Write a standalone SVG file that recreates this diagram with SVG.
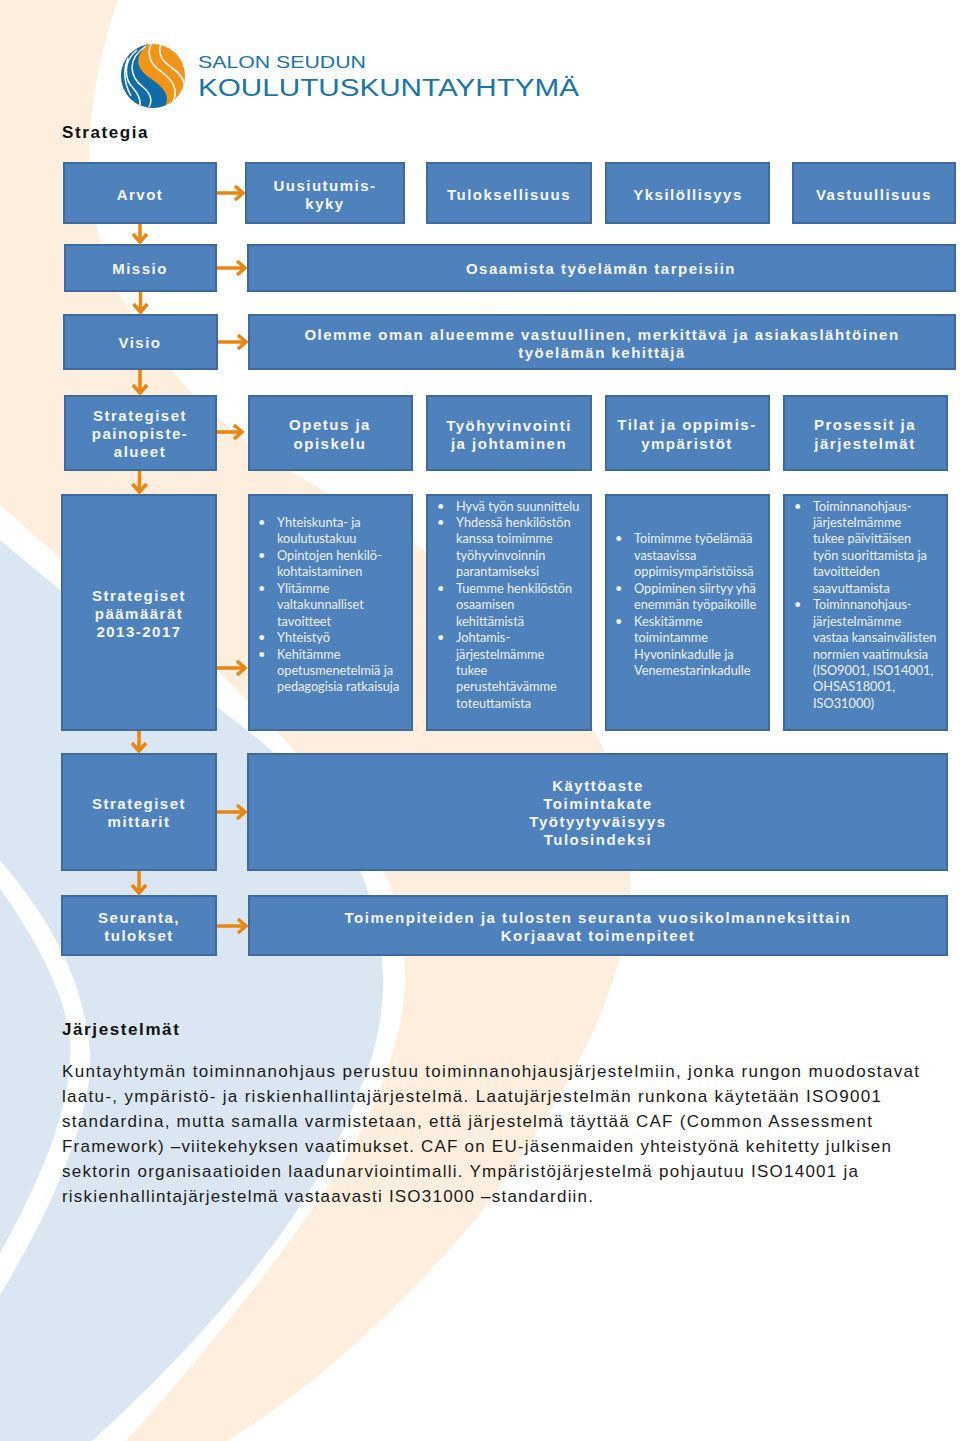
<svg xmlns="http://www.w3.org/2000/svg" width="960" height="1441" viewBox="0 0 960 1441">
<style>
.b{fill:#4f81bd;stroke:#3f6a9c;stroke-width:2}
.l{font-family:"Liberation Sans",Arial,sans-serif;font-weight:700;font-size:15px;letter-spacing:1.5px;fill:#f4f7fb;text-anchor:middle}
.s{font-family:Lato,"Open Sans",sans-serif;font-size:12.75px;fill:#edf2f8}
.t{font-family:"Liberation Sans",Arial,sans-serif;font-size:17px;fill:#1a1a1a}
.h{font-family:"Liberation Sans",Arial,sans-serif;font-size:17px;font-weight:700;letter-spacing:1.6px;fill:#111}
.a{fill:none;stroke:#e8860f;stroke-width:3.5;marker-end:url(#ah)}
.logo{font-family:"Liberation Sans",Arial,sans-serif;fill:#1a74a8}
</style>
<defs>
<marker id="ah" markerUnits="userSpaceOnUse" markerWidth="20" markerHeight="20" refX="16" refY="10" orient="auto" viewBox="0 0 20 20">
<path d="M8,3 L16,10 L8,17" fill="none" stroke="#e8860f" stroke-width="3.5"/>
</marker>
<clipPath id="lc"><circle cx="153" cy="76" r="32"/></clipPath>
</defs>
<rect width="960" height="1441" fill="#fff"/>
<g id="background">
<path fill="#fdeedd" d="M0,0 L118,0 C100,50 89,110 89,157 C90,215 105,265 120,295 C140,330 160,358 173,372 C205,410 250,448 293,473 C340,500 375,520 413,542 C480,590 550,670 592,727 C610,755 630,820 630,875 C632,930 615,985 589,1040 C560,1100 520,1160 479,1215 C400,1310 310,1390 227,1441 L126,1441 C200,1360 270,1270 319,1200 C370,1130 405,1040 405,979 C405,930 395,890 383,872 C360,820 320,780 285,740 C270,725 260,712 250,703 L217,670 L62,560 L0,505 Z"/>
<path fill="#dae7f3" d="M0,540 L60,590 L217,707 C240,725 258,738 273,752 C310,790 345,835 362,875 C378,915 383,950 383,979 C383,1010 378,1040 368,1068 C350,1120 325,1170 294,1215 C240,1295 165,1375 92,1441 L0,1441 Z"/>
<path fill="#fff" d="M0,860 C50,920 82,975 90,1050 C95,1120 40,1230 0,1295 L0,1253 C30,1200 75,1110 70,1040 C65,990 30,930 0,889 Z"/>
</g>
<g id="logo">
<g clip-path="url(#lc)">
<rect x="121" y="44" width="64" height="64" fill="#f0941a"/>
<path fill="#0f6cab" d="M121,44 L148,44 C132,58 138,70 150,78 C163,87 172,96 164,108 L121,108 Z"/>
<path fill="none" stroke="#fff" stroke-width="1.5" d="M146,46 C125,60 131,78 143,87 C150,93 153,100 149,107 M137,50 C122,62 125,80 133,88 C139,95 141,100 140,106 M128,58 C122,72 125,85 131,96 M151,44 C146,56 152,66 162,72 C172,80 180,90 172,104 M161,44 C157,54 163,62 172,68 C180,73 185,80 185,90"/>
</g>
<text class="logo" x="198" y="68" font-size="17" textLength="168" lengthAdjust="spacingAndGlyphs">SALON SEUDUN</text>
<text class="logo" x="198" y="96" font-size="23" textLength="381" lengthAdjust="spacingAndGlyphs">KOULUTUSKUNTAYHTYMÄ</text>
</g>
<text class="h" x="62" y="138">Strategia</text>
<g id="n-arvot"><rect class="b" x="64" y="163" width="152" height="60"/><text class="l" x="140" y="200">Arvot</text></g>
<g id="n-uusiutumis"><rect class="b" x="246" y="163" width="158" height="60"/><text class="l" x="325" y="191">Uusiutumis-</text><text class="l" x="325" y="209">kyky</text></g>
<g id="n-tuloksellisuus"><rect class="b" x="427" y="163" width="164" height="60"/><text class="l" x="509" y="200">Tuloksellisuus</text></g>
<g id="n-yksilollisyys"><rect class="b" x="606" y="163" width="163" height="60"/><text class="l" x="688" y="200">Yksilöllisyys</text></g>
<g id="n-vastuullisuus"><rect class="b" x="793" y="163" width="162" height="60"/><text class="l" x="874" y="200">Vastuullisuus</text></g>
<g id="n-missio"><rect class="b" x="65" y="245" width="151" height="46"/><text class="l" x="140" y="274">Missio</text></g>
<g id="n-osaamista"><rect class="b" x="248" y="245" width="707" height="46"/><text class="l" x="601" y="274">Osaamista työelämän tarpeisiin</text></g>
<g id="n-visio"><rect class="b" x="64" y="315" width="153" height="54"/><text class="l" x="140" y="348">Visio</text></g>
<g id="n-olemme"><rect class="b" x="249" y="315" width="706" height="54"/><text class="l" x="602" y="340">Olemme oman alueemme vastuullinen, merkittävä ja asiakaslähtöinen</text><text class="l" x="602" y="358">työelämän kehittäjä</text></g>
<g id="n-painopiste"><rect class="b" x="65" y="396" width="151" height="74"/><text class="l" x="140" y="421">Strategiset</text><text class="l" x="140" y="439">painopiste-</text><text class="l" x="140" y="457">alueet</text></g>
<g id="n-opetus"><rect class="b" x="249" y="396" width="163" height="74"/><text class="l" x="330" y="430">Opetus ja</text><text class="l" x="330" y="449">opiskelu</text></g>
<g id="n-tyohyvinvointi"><rect class="b" x="427" y="396" width="164" height="74"/><text class="l" x="509" y="431">Työhyvinvointi</text><text class="l" x="509" y="449">ja johtaminen</text></g>
<g id="n-tilat"><rect class="b" x="606" y="396" width="163" height="74"/><text class="l" x="687" y="430">Tilat ja oppimis-</text><text class="l" x="687" y="449">ympäristöt</text></g>
<g id="n-prosessit"><rect class="b" x="784" y="396" width="163" height="74"/><text class="l" x="865" y="430">Prosessit ja</text><text class="l" x="865" y="449">järjestelmät</text></g>
<g id="n-paamaarat"><rect class="b" x="62" y="495" width="154" height="235"/><text class="l" x="139" y="601">Strategiset</text><text class="l" x="139" y="619">päämäärät</text><text class="l" x="139" y="637">2013-2017</text></g>
<g id="n-c1"><rect class="b" x="249" y="495" width="163" height="235"/>
<g class="s"><text x="258" y="527">•</text><text x="277" y="527">Yhteiskunta- ja</text><text x="277" y="543">koulutustakuu</text><text x="258" y="560">•</text><text x="277" y="560">Opintojen henkilö-</text><text x="277" y="576">kohtaistaminen</text><text x="258" y="593">•</text><text x="277" y="593">Ylitämme</text><text x="277" y="609">valtakunnalliset</text><text x="277" y="626">tavoitteet</text><text x="258" y="642">•</text><text x="277" y="642">Yhteistyö</text><text x="258" y="659">•</text><text x="277" y="659">Kehitämme</text><text x="277" y="675">opetusmenetelmiä ja</text><text x="277" y="691">pedagogisia ratkaisuja</text></g></g>
<g id="n-c2"><rect class="b" x="427" y="495" width="164" height="235"/>
<g class="s"><text x="437" y="511">•</text><text x="456" y="511">Hyvä työn suunnittelu</text><text x="437" y="527">•</text><text x="456" y="527">Yhdessä henkilöstön</text><text x="456" y="543">kanssa toimimme</text><text x="456" y="560">työhyvinvoinnin</text><text x="456" y="576">parantamiseksi</text><text x="437" y="593">•</text><text x="456" y="593">Tuemme henkilöstön</text><text x="456" y="609">osaamisen</text><text x="456" y="626">kehittämistä</text><text x="437" y="642">•</text><text x="456" y="642">Johtamis-</text><text x="456" y="659">järjestelmämme</text><text x="456" y="675">tukee</text><text x="456" y="691">perustehtävämme</text><text x="456" y="708">toteuttamista</text></g></g>
<g id="n-c3"><rect class="b" x="606" y="495" width="163" height="235"/>
<g class="s"><text x="615" y="543">•</text><text x="634" y="543">Toimimme työelämää</text><text x="634" y="560">vastaavissa</text><text x="634" y="576">oppimisympäristöissä</text><text x="615" y="593">•</text><text x="634" y="593">Oppiminen siirtyy yhä</text><text x="634" y="609">enemmän työpaikoille</text><text x="615" y="626">•</text><text x="634" y="626">Keskitämme</text><text x="634" y="642">toimintamme</text><text x="634" y="659">Hyvoninkadulle ja</text><text x="634" y="675">Venemestarinkadulle</text></g></g>
<g id="n-c4"><rect class="b" x="784" y="495" width="163" height="235"/>
<g class="s"><text x="794" y="511">•</text><text x="813" y="511">Toiminnanohjaus-</text><text x="813" y="527">järjestelmämme</text><text x="813" y="543">tukee päivittäisen</text><text x="813" y="560">työn suorittamista ja</text><text x="813" y="576">tavoitteiden</text><text x="813" y="593">saavuttamista</text><text x="794" y="609">•</text><text x="813" y="609">Toiminnanohjaus-</text><text x="813" y="626">järjestelmämme</text><text x="813" y="642">vastaa kansainvälisten</text><text x="813" y="659">normien vaatimuksia</text><text x="813" y="675">(ISO9001, ISO14001,</text><text x="813" y="691">OHSAS18001,</text><text x="813" y="708">ISO31000)</text></g></g>
<g id="n-mittarit"><rect class="b" x="62" y="754" width="154" height="116"/><text class="l" x="139" y="809">Strategiset</text><text class="l" x="139" y="827">mittarit</text></g>
<g id="n-kaytto"><rect class="b" x="248" y="754" width="699" height="116"/><text class="l" x="598" y="791">Käyttöaste</text><text class="l" x="598" y="809">Toimintakate</text><text class="l" x="598" y="827">Työtyytyväisyys</text><text class="l" x="598" y="845">Tulosindeksi</text></g>
<g id="n-seuranta"><rect class="b" x="62" y="896" width="154" height="59"/><text class="l" x="139" y="923">Seuranta,</text><text class="l" x="139" y="941">tulokset</text></g>
<g id="n-toimenpiteet"><rect class="b" x="249" y="896" width="698" height="59"/><text class="l" x="598" y="923">Toimenpiteiden ja tulosten seuranta vuosikolmanneksittain</text><text class="l" x="598" y="941">Korjaavat toimenpiteet</text></g>
<g id="connectors">
<path class="a" d="M217,193 H243"/><path class="a" d="M217,268 H245"/><path class="a" d="M218,342 H246"/><path class="a" d="M217,432 H242"/><path class="a" d="M217,668 H245"/><path class="a" d="M217,812 H245"/><path class="a" d="M217,926 H246"/>
<path class="a" d="M140,224 V242"/><path class="a" d="M140.5,292 V312"/><path class="a" d="M140,370 V393"/><path class="a" d="M139.5,471 V492"/><path class="a" d="M139,731 V751"/><path class="a" d="M139,871 V893"/>
</g>
<g id="text">
<text class="h" x="62" y="1035">Järjestelmät</text>
<text class="t" x="62" y="1077" textLength="857">Kuntayhtymän toiminnanohjaus perustuu toiminnanohjausjärjestelmiin, jonka rungon muodostavat</text>
<text class="t" x="62" y="1102" textLength="819">laatu-, ympäristö- ja riskienhallintajärjestelmä. Laatujärjestelmän runkona käytetään ISO9001</text>
<text class="t" x="62" y="1127" textLength="810">standardina, mutta samalla varmistetaan, että järjestelmä täyttää CAF (Common Assessment</text>
<text class="t" x="62" y="1152" textLength="829">Framework) –viitekehyksen vaatimukset. CAF on EU-jäsenmaiden yhteistyönä kehitetty julkisen</text>
<text class="t" x="62" y="1177" textLength="796">sektorin organisaatioiden laadunarviointimalli. Ympäristöjärjestelmä pohjautuu ISO14001 ja</text>
<text class="t" x="62" y="1202" textLength="531">riskienhallintajärjestelmä vastaavasti ISO31000 –standardiin.</text>
</g>
</svg>
